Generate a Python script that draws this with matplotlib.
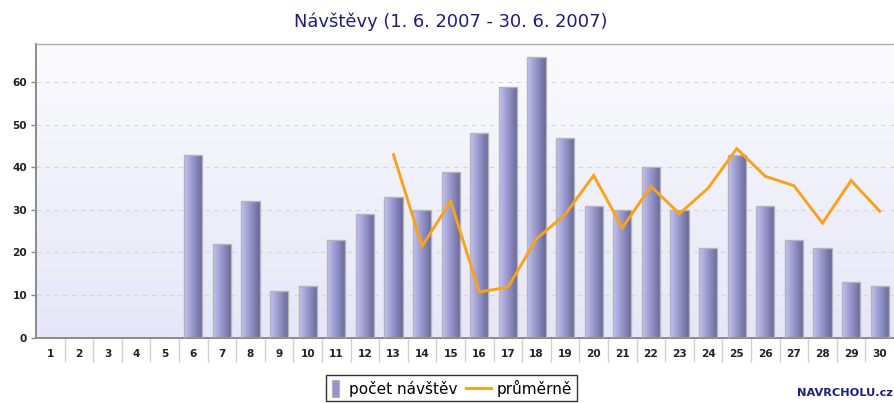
import numpy as np
import matplotlib
matplotlib.use("Agg")
import matplotlib.pyplot as plt
from matplotlib.patches import Rectangle
from matplotlib.lines import Line2D
from matplotlib.legend_handler import HandlerPatch, HandlerBase

days = [str(d) for d in range(1, 31)]
visits = [0, 0, 0, 0, 0, 43, 22, 32, 11, 12, 23, 29, 33, 30, 39, 48, 59, 66, 47,
          31, 30, 40, 30, 21, 43, 31, 23, 21, 13, 12]
avg_days = list(range(13, 31))
avg_vals = [43, 21.5, 32, 10.7, 11.8, 23.2, 28.9, 38.1, 25.8, 35.5, 29.1, 35.1,
            44.4, 37.9, 35.7, 26.9, 36.9, 29.7]
yticks = [0, 10, 20, 30, 40, 50, 60]
title = "Návštěvy (1. 6. 2007 - 30. 6. 2007)"
legend_labels = ["počet návštěv", "průměrně"]

W, H = 895, 403
fig = plt.figure(figsize=(W / 100, H / 100), dpi=100)
ax = fig.add_axes([36 / W, 1 - 337.5 / H, (894 - 36) / W, (337.5 - 44) / H])

# background gradient
bg = np.linspace(0, 1, 256).reshape(-1, 1)
top_c = np.array([0xFB, 0xFB, 0xFE]) / 255
bot_c = np.array([0xE6, 0xE6, 0xF8]) / 255
bgimg = top_c[None, None, :] * (1 - bg[:, :, None]) + bot_c[None, None, :] * bg[:, :, None]
ax.imshow(bgimg, extent=[0, 1, 0, 1], transform=ax.transAxes, aspect="auto", zorder=0)

x = np.arange(len(days))
ax.set_xlim(-0.5, len(days) - 0.5)
ax.set_ylim(0, 69)

ax.yaxis.grid(True, color="#D6D6DE", linestyle=(0, (4, 4)), linewidth=0.8, zorder=1)
ax.set_axisbelow(True)

bw = 0.63
bars = ax.bar(x, visits, width=bw, facecolor="none", edgecolor="#B5B5B5", linewidth=1.0, zorder=3)
grad = np.linspace(0, 1, 64).reshape(1, -1)
lc = np.array([0xC2, 0xC2, 0xF4]) / 255
dc = np.array([0x66, 0x66, 0x98]) / 255
gimg = lc[None, None, :] * (1 - grad[:, :, None]) + dc[None, None, :] * grad[:, :, None]
for b, v in zip(bars, visits):
    if v <= 0:
        b.set_visible(False)
        continue
    x0 = b.get_x()
    im = ax.imshow(gimg, extent=[x0, x0 + b.get_width(), 0, v], aspect="auto", zorder=2)
    im.set_clip_path(b)

ax.set_xlim(-0.5, len(days) - 0.5)
ax.set_ylim(0, 69)

avg_x = [d - 1 for d in avg_days]
ax.plot(avg_x, avg_vals, color="#F9A21B", linewidth=2.1, zorder=4, solid_joinstyle="miter")

# axes styling
ax.spines["right"].set_visible(False)
ax.spines["left"].set_color("#8A8A8A")
ax.spines["left"].set_linewidth(1.4)
ax.spines["bottom"].set_color("#8A8A8A")
ax.spines["bottom"].set_linewidth(1.4)
ax.spines["top"].set_color("#B0B0B0")
ax.spines["top"].set_linewidth(1.0)

ax.set_yticks(yticks)
ax.set_yticklabels([str(t) for t in yticks], fontsize=7.6, fontweight="bold", color="#222222")
ax.tick_params(axis="y", length=3.5, width=1, color="#8A8A8A", pad=3)

ax.set_xticks(x)
ax.set_xticklabels(days, fontsize=7.6, fontweight="bold", color="#222222")
ax.tick_params(axis="x", which="major", length=0, pad=8)
ax.set_xticks(np.arange(0.5, len(days) - 0.5, 1), minor=True)
ax.tick_params(axis="x", which="minor", length=17, width=1, color="#D0D0D0")

fig.text(451 / W, 1 - 22 / H, title, ha="center", va="center", fontsize=12.9, color="#1C1C85")


class NarrowBar(HandlerPatch):
    def create_artists(self, legend, orig_handle, xdescent, ydescent, width, height, fontsize, trans):
        w = 5.0
        h = height * 1.55
        p = Rectangle((-xdescent + 1.5, -ydescent - (h - height) / 2), w, h,
                      facecolor="#9494D0", edgecolor="#B5B5B5", linewidth=0.8, transform=trans)
        return [p]


class LongLine(HandlerBase):
    def create_artists(self, legend, orig_handle, xdescent, ydescent, width, height, fontsize, trans):
        y = -ydescent + height / 2
        ln = Line2D([-xdescent + width - 18, -xdescent + width], [y, y],
                    color=orig_handle.get_color(), linewidth=orig_handle.get_linewidth(),
                    transform=trans)
        return [ln]


bar_handle = Rectangle((0, 0), 1, 1, facecolor="#9494D0")
line_handle = Line2D([0], [0], color="#F9A21B", linewidth=2.1)
leg = ax.legend([bar_handle, line_handle], legend_labels,
                handler_map={Rectangle: NarrowBar(), Line2D: LongLine()},
                loc="upper center", bbox_to_anchor=(0.484, -0.128), ncol=2,
                fontsize=11, frameon=True, fancybox=False, handlelength=0.85,
                handletextpad=0.4, columnspacing=1.3, borderpad=0.3, borderaxespad=0)
leg.get_frame().set_edgecolor("#000000")
leg.get_frame().set_linewidth(1.0)

fig.text(893 / W, 1 - 393 / H, "NAVRCHOLU.cz", ha="right", va="center", fontsize=8.2,
         fontweight="bold", color="#1F1F80")

fig.savefig("out.png", dpi=100)
